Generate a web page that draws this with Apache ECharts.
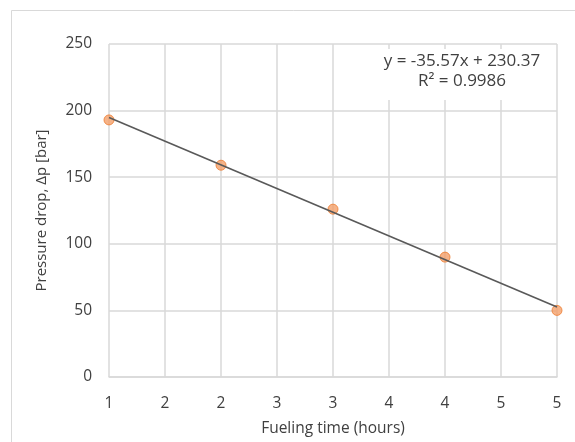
<!DOCTYPE html>
<html>
<head>
<meta charset="utf-8">
<script src="https://cdn.jsdelivr.net/npm/echarts@6/dist/echarts.min.js"></script>
<style>
  html, body { margin: 0; padding: 0; background: #fff; }
  #chart { width: 575px; height: 442px; }
</style>
</head>
<body>
<div id="chart"></div>
<script>
// measured points: fueling time (h) vs pressure drop (bar)
var fuelHours = [1, 2, 3, 4, 5];
var pressureDrop = [193, 159, 126, 90, 50];
// linear trendline ends
var trendHours = [1, 5];
var trendDrop = [194.8, 52.5];
// x tick labels as Excel printed them (0.5 step, rounded to integers)
var xTickLabels = ['1', '2', '2', '3', '3', '4', '4', '5', '5'];
var yTicks = [0, 50, 100, 150, 200, 250];
var eqText = 'y = -35.57x + 230.37';
var r2Text = 'R² = 0.9986';

var font = '"Open Sans", Lato, sans-serif';
var txt = '#404040';

var chart = echarts.init(document.getElementById('chart'));

chart.setOption({
  animation: false,
  backgroundColor: '#fff',
  grid: { left: 109, right: 18, top: 44, bottom: 65 },
  xAxis: {
    type: 'value',
    min: 1,
    max: 5,
    interval: 0.5,
    name: 'Fueling time (hours)',
    nameLocation: 'middle',
    nameGap: 44,
    nameTextStyle: { color: txt, fontSize: 15.5, fontFamily: font },
    axisLine: { show: true, lineStyle: { color: '#d9d9d9', width: 1.5 } },
    axisTick: { show: false },
    axisLabel: {
      color: txt, fontSize: 15.5, fontFamily: font, margin: 19,
      formatter: function (v) { return xTickLabels[Math.round((v - 1) / 0.5)]; }
    },
    splitLine: { show: true, lineStyle: { color: '#d9d9d9', width: 1.5 } }
  },
  yAxis: {
    type: 'value',
    min: yTicks[0],
    max: yTicks[yTicks.length - 1],
    interval: 50,
    name: 'Pressure drop, Δp [bar]',
    nameLocation: 'middle',
    nameGap: 60,
    nameTextStyle: { color: txt, fontSize: 15, fontFamily: font },
    axisLine: { show: false },
    axisTick: { show: false },
    axisLabel: { color: txt, fontSize: 15.5, fontFamily: font, margin: 17 },
    splitLine: { show: true, lineStyle: { color: '#d9d9d9', width: 1.5 } }
  },
  graphic: [
    {
      type: 'rect', silent: true, z: 0,
      shape: { x: 11.5, y: 10.5, width: 620, height: 480 },
      style: { fill: null, stroke: '#d9d9d9', lineWidth: 1 }
    },
    {
      type: 'rect', silent: true, z: 50,
      shape: { x: 376, y: 49, width: 178, height: 51 },
      style: { fill: '#fff' }
    },
    {
      type: 'text', silent: true, z: 51, x: 462, y: 61,
      style: { text: eqText, fill: txt, font: '17px ' + font, align: 'center', verticalAlign: 'middle' }
    },
    {
      type: 'text', silent: true, z: 51, x: 462, y: 81,
      style: { text: r2Text, fill: txt, font: '17px ' + font, align: 'center', verticalAlign: 'middle' }
    }
  ],
  series: [
    {
      type: 'scatter',
      data: fuelHours.map(function (x, i) { return [x, pressureDrop[i]]; }),
      symbolSize: 10,
      itemStyle: { color: '#f4a06a', borderColor: '#ed7d31', borderWidth: 1 },
      z: 3
    },
    {
      type: 'line',
      data: trendHours.map(function (x, i) { return [x, trendDrop[i]]; }),
      showSymbol: false,
      lineStyle: { color: '#595959', width: 1.6 },
      z: 4
    }
  ]
});
</script>
</body>
</html>
